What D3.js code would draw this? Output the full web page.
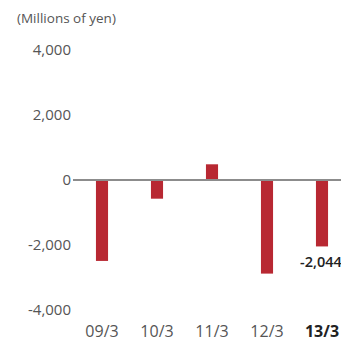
<!DOCTYPE html>
<html>
<head>
<meta charset="utf-8">
<script src="https://cdn.jsdelivr.net/npm/d3@7"></script>
<style>
body { margin: 0; background: #fff; }
text { font-family: "Open Sans", "Noto Sans", sans-serif; }
</style>
</head>
<body>
<div id="chart"></div>
<script>
var years = ["09/3", "10/3", "11/3", "12/3", "13/3"];
var values = [-2490, -575, 483, -2880, -2044];
var yTicks = [4000, 2000, 0, -2000, -4000];

var w = 341;
var h = 343;

var svg = d3.select("#chart")
			.append("svg")
			.attr("width", w)
			.attr("height", h);

var xScale = d3.scaleBand()
				.domain(years)
				.range([74.5, 349.5])
				.paddingInner(0.78)
				.paddingOuter(0.39);

var yScale = d3.scaleLinear()
				.domain([-4000, 4000])
				.range([310, 50]);

// plain hyphen for negatives, like the original
var fmt = function(d) { return d3.format(",")(d).replace("\u2212", "-"); };

// unit label
svg.append("text")
	.attr("x", 17)
	.attr("y", 23)
	.attr("font-size", 13.5)
	.attr("fill", "#555")
	.text("(Millions of yen)");

// y labels
svg.selectAll(".ytick")
	.data(yTicks)
	.enter()
	.append("text")
	.attr("class", "ytick")
	.attr("x", 71)
	.attr("y", function(d) { return yScale(d) + 5; })
	.attr("text-anchor", "end")
	.attr("font-size", 15)
	.attr("fill", "#555")
	.text(function(d) { return fmt(d); });

// bars
svg.selectAll("rect")
	.data(values)
	.enter()
	.append("rect")
	.attr("x", function(d, i) { return xScale(years[i]); })
	.attr("y", function(d) { return d > 0 ? yScale(d) : yScale(0); })
	.attr("width", xScale.bandwidth())
	.attr("height", function(d) { return Math.abs(yScale(d) - yScale(0)); })
	.attr("fill", "#b82832");

// zero line
svg.append("line")
	.attr("x1", 73)
	.attr("x2", w)
	.attr("y1", yScale(0))
	.attr("y2", yScale(0))
	.attr("stroke", "#8c8c8c")
	.attr("stroke-width", 2);

// x labels
svg.selectAll(".xtick")
	.data(years)
	.enter()
	.append("text")
	.attr("class", "xtick")
	.attr("x", function(d) { return xScale(d) + xScale.bandwidth() / 2; })
	.attr("y", 337)
	.attr("text-anchor", "middle")
	.attr("font-size", 16)
	.attr("font-weight", function(d, i) { return i == years.length - 1 ? "bold" : "normal"; })
	.attr("fill", function(d, i) { return i == years.length - 1 ? "#222" : "#555"; })
	.text(function(d) { return d; });

// value label for last bar
var last = values.length - 1;
svg.append("text")
	.attr("x", 300)
	.attr("y", yScale(values[last]) + 21)
	.attr("font-size", 14.5)
	.attr("font-weight", 600)
	.attr("fill", "#222")
	.text(fmt(values[last]));
</script>
</body>
</html>
